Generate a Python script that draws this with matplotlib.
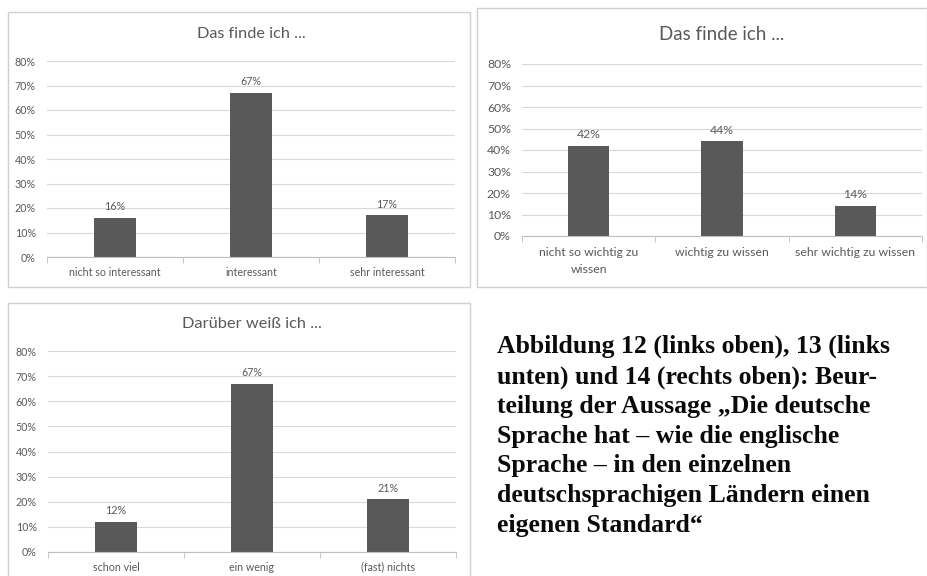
import matplotlib.pyplot as plt
from matplotlib.patches import Rectangle
from matplotlib.ticker import PercentFormatter

# survey answers, share of respondents in percent
cats_interest = ['nicht so interessant', 'interessant', 'sehr interessant']
vals_interest = [16, 67, 17]

cats_know = ['schon viel', 'ein wenig', '(fast) nichts']
vals_know = [12, 67, 21]

cats_important = ['nicht so wichtig zu\nwissen', 'wichtig zu wissen', 'sehr wichtig zu wissen']
vals_important = [42, 44, 14]

caption = ('Abbildung 12 (links oben), 13 (links\n'
           'unten) und 14 (rechts oben): Beur-\n'
           'teilung der Aussage \u201eDie deutsche\n'
           'Sprache hat \u2013 wie die englische\n'
           'Sprache \u2013 in den einzelnen\n'
           'deutschsprachigen L\u00e4ndern einen\n'
           'eigenen Standard\u201c')

W, H = 928, 576
TXT = '#595959'
BAR = '#595959'
GRID = '#d9d9d9'

plt.rcParams['font.family'] = ['Lato', 'DejaVu Sans']

fig = plt.figure(figsize=(W / 100, H / 100), dpi=100)


def px_box(x0, y0, x1, y1):
    # pixel box (top-left origin) -> figure fraction rect
    return [x0 / W, 1 - y1 / H, (x1 - x0) / W, (y1 - y0) / H]


def frame(x0, y0, x1, y1):
    l, b, w, h = px_box(x0, y0, x1, y1)
    fig.patches.append(Rectangle((l, b), w, h, transform=fig.transFigure,
                                 fill=False, edgecolor='#d0d0d0', lw=1.0))


def bar_panel(rect, cats, vals, title, tsize, fsize, title_y, xpad=7):
    ax = fig.add_axes(rect)
    x = range(len(cats))
    bars = ax.bar(x, vals, width=0.31, color=BAR, zorder=3)
    for b, v in zip(bars, vals):
        ax.annotate(f'{v}%', (b.get_x() + b.get_width() / 2, v),
                    xytext=(0, 4), textcoords='offset points',
                    ha='center', va='bottom', fontsize=fsize, color=TXT)
    ax.set_xlim(-0.5, len(cats) - 0.5)
    ax.set_ylim(0, 80)
    ax.set_yticks(range(0, 81, 10))
    ax.yaxis.set_major_formatter(PercentFormatter(decimals=0))
    ax.grid(axis='y', color=GRID, lw=0.8, zorder=0)
    for s in ['top', 'right', 'left']:
        ax.spines[s].set_visible(False)
    ax.spines['bottom'].set_color('#bfbfbf')
    ax.spines['bottom'].set_zorder(4)
    ax.set_xticks(list(x))
    ax.set_xticklabels(cats, fontsize=fsize, color=TXT, linespacing=1.6)
    ax.set_xticks([i + 0.5 for i in range(-1, len(cats))], minor=True)
    ax.tick_params(axis='x', which='major', length=0, pad=xpad)
    ax.tick_params(axis='x', which='minor', length=4, color='#bfbfbf')
    ax.tick_params(axis='y', length=0, pad=8, labelsize=fsize, labelcolor=TXT)
    fig.text(rect[0] + rect[2] / 2, title_y, title, ha='center', va='center',
             fontsize=tsize, color=TXT)
    return ax


# top left
frame(8, 12, 470, 287)
bar_panel(px_box(47, 61, 455, 257), cats_interest, vals_interest,
          'Das finde ich ...', 11.7, 7.7, 1 - 34 / H)

# top right
frame(477, 8, 927, 287)
bar_panel(px_box(522, 64, 922, 236), cats_important, vals_important,
          'Das finde ich ...', 13.5, 8.8, 1 - 34 / H, xpad=8)

# bottom left
frame(8, 303, 470, 580)
bar_panel(px_box(48, 351, 456, 552), cats_know, vals_know,
          'Darüber weiß ich ...', 11.8, 7.7, 1 - 324 / H)

fig.text(497 / W, 1 - 335 / H, caption, ha='left', va='top',
         fontsize=18.5, fontweight='bold', family=['Liberation Serif', 'DejaVu Serif'],
         color='#0a0a0a', linespacing=1.37)

fig.savefig('out.png', dpi=100)
